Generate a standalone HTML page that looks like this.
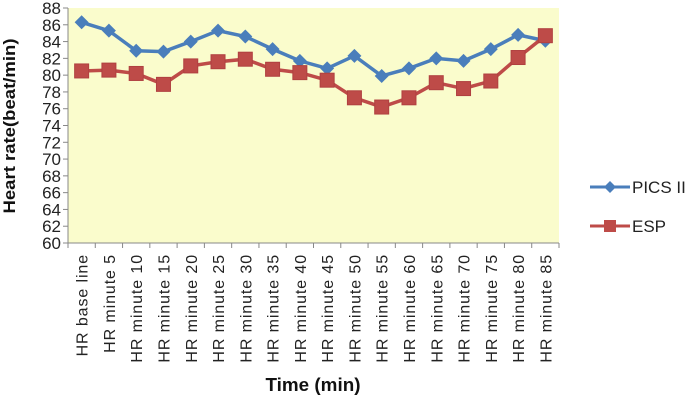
<!DOCTYPE html>
<html><head><meta charset="utf-8"><style>
body{margin:0;background:#fff;}
svg{display:block;font-family:"Liberation Sans",sans-serif;}
</style></head><body>
<svg id="chart" width="685" height="401">
<rect x="68" y="8" width="491" height="235" fill="#fafccc"/>
<g id="axes"></g><g id="series"></g>
<text x="15" y="126" transform="rotate(-90 15 126)" text-anchor="middle" font-size="17" font-weight="bold" fill="#111" textLength="175" lengthAdjust="spacingAndGlyphs">Heart rate(beat/min)</text>
<text x="313" y="391" text-anchor="middle" font-size="18" font-weight="bold" fill="#111" textLength="95" lengthAdjust="spacingAndGlyphs">Time (min)</text>
<g>
<g>
<line x1="590" y1="187" x2="630" y2="187" stroke="#4a7ebb" stroke-width="3"/>
<path d="M610 181 L616 187 L610 193 L604 187Z" fill="#4a7ebb"/>
<text x="632" y="193" font-size="17" fill="#222">PICS II</text></g>
<g>
<line x1="590" y1="226" x2="630" y2="226" stroke="#be4b48" stroke-width="3"/>
<rect x="604" y="220" width="12" height="12" fill="#be4b48"/>
<text x="632" y="232" font-size="17" fill="#222">ESP</text></g>
</g>
</svg>
<script>
const categories=["HR base line","HR minute 5","HR minute 10","HR minute 15","HR minute 20","HR minute 25","HR minute 30","HR minute 35","HR minute 40","HR minute 45","HR minute 50","HR minute 55","HR minute 60","HR minute 65","HR minute 70","HR minute 75","HR minute 80","HR minute 85"];
const picsValues=[86.3,85.3,82.9,82.8,84.0,85.3,84.6,83.1,81.7,80.8,82.3,79.9,80.8,82.0,81.7,83.1,84.8,84.1];
const espValues=[80.5,80.6,80.2,78.9,81.1,81.6,81.9,80.7,80.3,79.4,77.3,76.2,77.3,79.1,78.4,79.3,82.1,84.7];
const yTicks=[60,62,64,66,68,70,72,74,76,78,80,82,84,86,88];
const NS="http://www.w3.org/2000/svg";
const L=68,R=559,T=8,B=243,band=(R-L)/categories.length;
const x=i=>L+band*(i+0.5);
const y=v=>B-(v-60)/(88-60)*(B-T);
function mk(tag,attrs,parent){const e=document.createElementNS(NS,tag);for(const k in attrs)e.setAttribute(k,attrs[k]);parent.appendChild(e);return e;}
const axes=document.getElementById('axes'),series=document.getElementById('series');
let ya=mk('line',{x1:L,y1:T,x2:L,y2:B,stroke:'#888'},axes);


let xa=mk('line',{x1:L,y1:B,x2:R,y2:B,stroke:'#888'},axes);


yTicks.forEach(v=>{
 mk('line',{x1:L-5,y1:y(v),x2:L,y2:y(v),stroke:'#888'},axes);
 const t=mk('text',{x:L-7,y:y(v)+6,'text-anchor':'end','font-size':17,fill:'#222'},axes);
 t.textContent=v;
 
 
});
for(let i=0;i<=categories.length;i++)mk('line',{x1:L+band*i,y1:B,x2:L+band*i,y2:B+5,stroke:'#888'},axes);
categories.forEach((c,i)=>{
 const tx=x(i)+6,ty=254;
 const t=mk('text',{x:tx,y:ty,transform:`rotate(-90 ${tx} ${ty})`,'text-anchor':'end','font-size':16,'letter-spacing':'0.9',fill:'#222'},axes);
 t.textContent=c;
 
 
});
function drawLine(vals,color,name){
 const p=mk('polyline',{points:vals.map((v,i)=>x(i)+','+y(v)).join(' '),fill:'none',stroke:color,'stroke-width':3.5},series);
 
 
}
drawLine(picsValues,'#4a7ebb','pics');
drawLine(espValues,'#be4b48','esp');
picsValues.forEach((v,i)=>{
 const cx=x(i),cy=y(v);
 const m=mk('path',{d:`M${cx} ${cy-7}L${cx+7} ${cy}L${cx} ${cy+7}L${cx-7} ${cy}Z`,fill:'#4a7ebb'},series);
 
 
});
espValues.forEach((v,i)=>{
 const m=mk('rect',{x:x(i)-7,y:y(v)-7,width:14,height:14,fill:'#be4b48',stroke:'#b04040'},series);
 
 
});
</script>
</body></html>
